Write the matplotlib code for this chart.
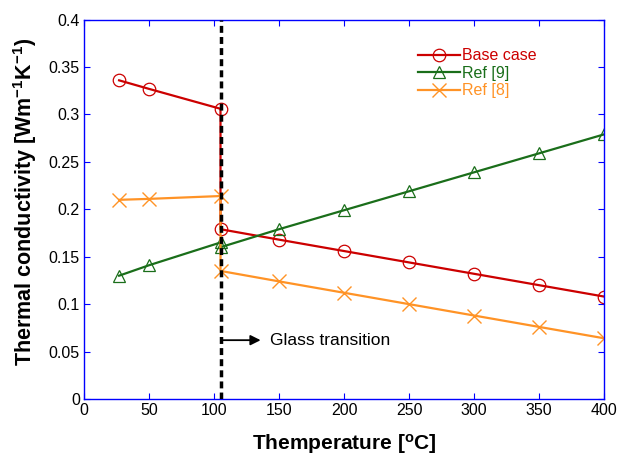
import matplotlib.pyplot as plt

plt.rcParams['font.family'] = ['Liberation Sans', 'DejaVu Sans']

# Measured thermal conductivity vs temperature (two points at 105 C mark the step)
temp = [27, 50, 105, 105, 150, 200, 250, 300, 350, 400]
base_case = [0.336, 0.327, 0.306, 0.179, 0.168, 0.156, 0.144, 0.132, 0.120, 0.108]
ref9 = [0.130, 0.141, 0.165, 0.160, 0.179, 0.199, 0.219, 0.239, 0.259, 0.279]
ref8 = [0.210, 0.211, 0.214, 0.135, 0.124, 0.112, 0.100, 0.088, 0.076, 0.064]
glass_temp = 105

fig = plt.figure(figsize=(6.33, 4.57), dpi=100)
ax = fig.add_axes([0.1327, 0.127, 0.8215, 0.830])

ax.plot(temp, base_case, color='#cc0000', lw=1.6, marker='o', ms=9,
        mfc='none', mec='#cc0000', mew=0.9, label='Base case')
ax.plot(temp, ref9, color='#1a6e1a', lw=1.6, marker='^', ms=8.5,
        mfc='none', mec='#1a6e1a', mew=0.9, label='Ref [9]')
ax.plot(temp, ref8, color='#ff9326', lw=1.6, marker='x', ms=10,
        mec='#ff9326', mew=1.0, label='Ref [8]')

ax.axvline(glass_temp, color='black', lw=2.5, ls=(0, (2, 1.2)), zorder=5)
ax.annotate('', xy=(138, 0.062), xytext=(glass_temp, 0.062),
            arrowprops=dict(arrowstyle='-|>', color='black', lw=1.3,
                            mutation_scale=15))
ax.text(143, 0.062, 'Glass transition', fontsize=12.5, va='center')

ax.set_xlim(0, 400)
ax.set_ylim(0, 0.4)
ax.set_xticks(range(0, 401, 50))
ax.set_yticks([0, 0.05, 0.1, 0.15, 0.2, 0.25, 0.3, 0.35, 0.4])
ax.set_yticklabels(['0', '0.05', '0.1', '0.15', '0.2', '0.25', '0.3', '0.35', '0.4'])
ax.tick_params(direction='in', length=4, color='blue', labelsize=11.5,
               top=True, right=True, pad=3)
for s in ax.spines.values():
    s.set_color('blue')
    s.set_linewidth(1.0)

ax.set_xlabel('Themperature [$\\mathregular{^{o}}$C]', fontsize=15,
              fontweight='bold', labelpad=10)
ax.set_ylabel('Thermal conductivity [Wm$\\mathregular{^{-1}}$K$\\mathregular{^{-1}}$)',
              fontsize=15.5, fontweight='bold')
ax.yaxis.set_label_coords(-0.086, 0.52)

leg = ax.legend(loc='upper left', bbox_to_anchor=(0.627, 0.945), frameon=False,
                fontsize=11.5, handlelength=2.6, handletextpad=0.15,
                labelspacing=0.15, borderpad=0)
for txt, line in zip(leg.get_texts(), leg.get_lines()):
    txt.set_color(line.get_color())

fig.savefig('out.png', dpi=100)
